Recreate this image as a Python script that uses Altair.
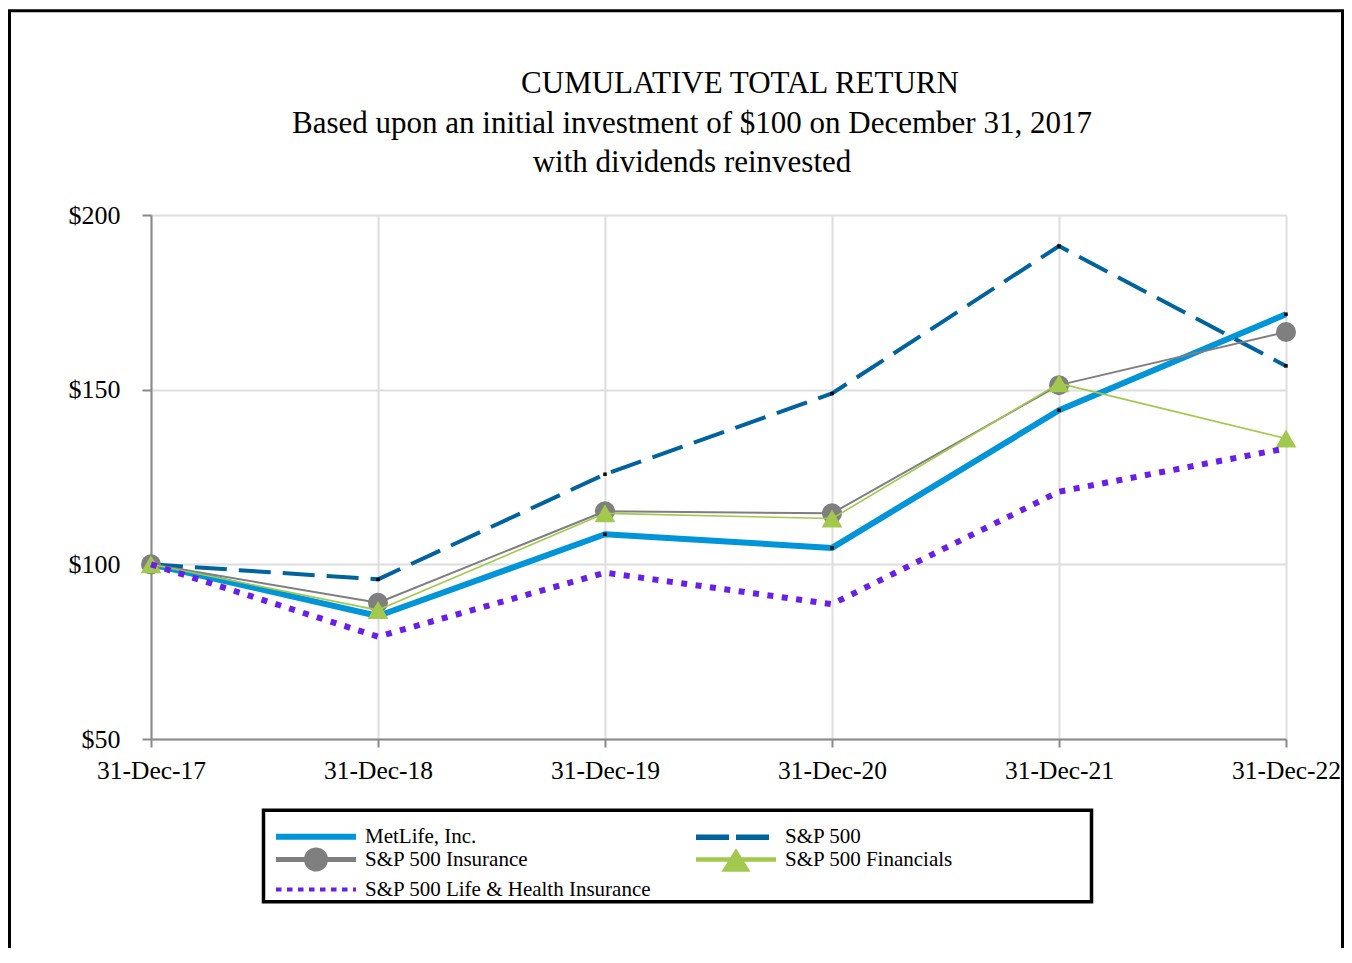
import altair as alt
import pandas as pd

dates = ["31-Dec-17", "31-Dec-18", "31-Dec-19", "31-Dec-20", "31-Dec-21", "31-Dec-22"]
series_names = ["MetLife, Inc.", "S&P 500", "S&P 500 Insurance", "S&P 500 Financials",
                "S&P 500 Life & Health Insurance"]
metlife = [100, 85.2, 108.6, 104.7, 144.1, 171.6]
sp500 = [100, 95.7, 125.8, 148.9, 191.1, 156.8]
insurance = [100, 89.0, 115.2, 114.6, 151.3, 166.5]
financials = [100, 86.9, 114.6, 113.1, 151.8, 136.0]
lifehealth = [100, 79.3, 97.6, 88.6, 120.8, 133.2]
y_ticks = [50, 100, 150, 200]
title_lines = ["CUMULATIVE TOTAL RETURN",
               "Based upon an initial investment of $100 on December 31, 2017",
               "with dividends reinvested"]

values_by_series = [metlife, sp500, insurance, financials, lifehealth]
rows = []
for name, vals in zip(series_names, values_by_series):
    for d, v in zip(dates, vals):
        rows.append({"date": d, "series": name, "value": v})
df = pd.DataFrame(rows)

colors = ["#0094D8", "#00639E", "#7F7F7F", "#A2C94E", "#6A1FE8"]
line_widths = [6, 4, 2, 1.6, 6]
line_dashes = [None, [32, 12], None, None, [6, 8.5]]

FONT = "Liberation Serif"

x_enc = alt.X("date:O", sort=dates, scale=alt.Scale(type="point", padding=0),
              axis=alt.Axis(title=None, labelAngle=0, grid=True, gridColor="#dedede", gridWidth=2,
                            domainColor="#8a8a8a", domainWidth=2, tickColor="#8a8a8a", tickWidth=2,
                            tickSize=8, labelFont=FONT, labelFontSize=25.5, labelColor="black",
                            labelPadding=11))
y_enc = alt.Y("value:Q", scale=alt.Scale(domain=[50, 200], nice=False, zero=False),
              axis=alt.Axis(title=None, values=y_ticks, labelExpr="'$' + datum.value", grid=True,
                            gridColor="#dedede", gridWidth=2, domainColor="#8a8a8a", domainWidth=2,
                            tickColor="#8a8a8a", tickWidth=2, tickSize=9, labelFont=FONT,
                            labelFontSize=26, labelColor="black", labelPadding=22))

base = alt.Chart(df)
layers = []
for i, name in enumerate(series_names):
    kw = dict(color=colors[i], strokeWidth=line_widths[i], strokeJoin="round")
    if line_dashes[i] is not None:
        kw["strokeDash"] = line_dashes[i]
        kw["strokeJoin"] = "miter"
    sub = base.transform_filter(alt.datum.series == name)
    layers.append(sub.mark_line(**kw).encode(x=x_enc, y=y_enc))
    if i in (0, 1):
        layers.append(sub.mark_square(size=12, color="black", opacity=1).encode(x=x_enc, y=y_enc))
    if i == 2:
        layers.append(sub.mark_point(shape="circle", filled=True, size=400, color=colors[i],
                                     opacity=1).encode(x=x_enc, y=y_enc))
    if i == 3:
        layers.append(sub.mark_point(shape="triangle-up", filled=True, size=430, color=colors[i],
                                     opacity=1).encode(x=x_enc, y=y_enc))

# legend symbols (custom paths, units scaled by 5px)
circ = ("M7.8,0C7.8,1.05 6.95,1.9 5.9,1.9C4.85,1.9 4,1.05 4,0"
        "C4,-1.05 4.85,-1.9 5.9,-1.9C6.95,-1.9 7.8,-1.05 7.8,0Z")
legend_shapes = [
    "M-2.1,0H13.9",
    "M-2.1,0H13.9",
    "M-2.1,0H13.9" + circ,
    "M-2.1,0H13.9M5.9,-1.4L8,2L3.8,2Z",
    "M-2.1,0H13.9",
]
legend_dashes = [[1, 0], [33, 7], [1, 0], [1, 0], [5.5, 5.5]]
legend_widths = [6, 4, 2, 2, 5]

leg = alt.Legend(orient="none", legendX=125, legendY=611, columns=2, columnPadding=33,
                 rowPadding=-9, padding=0, title=None, labelFont=FONT, labelFontSize=21,
                 labelColor="black", symbolSize=100, symbolOffset=0, labelOffset=68,
                 labelLimit=500, direction="horizontal")

legend_layer = base.transform_filter("false").mark_point(filled=True, opacity=1).encode(
    fill=alt.Fill("series:N", scale=alt.Scale(domain=series_names, range=colors), legend=leg),
    stroke=alt.Stroke("series:N", scale=alt.Scale(domain=series_names, range=colors), legend=leg),
    shape=alt.Shape("series:N", scale=alt.Scale(domain=series_names, range=legend_shapes), legend=leg),
    strokeDash=alt.StrokeDash("series:N", scale=alt.Scale(domain=series_names, range=legend_dashes),
                              legend=leg),
    strokeWidth=alt.StrokeWidth("series:N", scale=alt.Scale(domain=series_names, range=legend_widths),
                                legend=leg),
)
layers.append(legend_layer)

one = alt.Data(values=[{"k": 1}])
legend_box = alt.Chart(one).mark_rect(filled=False, stroke="black", strokeWidth=3.5).encode(
    x=alt.value(112.5), x2=alt.value(940.5), y=alt.value(595.3), y2=alt.value(686.8))
outer_frame = alt.Chart(one).mark_rect(filled=False, stroke="black", strokeWidth=3).encode(
    x=alt.value(-141.5), x2=alt.value(1191.5), y=alt.value(-204.2), y2=alt.value(760))
layers += [legend_box, outer_frame]

title_x = [589, 541, 541]
title_y = [-122.5, -82.5, -43.5]
for txt, tx, ty in zip(title_lines, title_x, title_y):
    layers.append(alt.Chart(one).mark_text(text=txt, font=FONT, fontSize=31, color="black",
                                           align="center", baseline="alphabetic").encode(
        x=alt.value(tx), y=alt.value(ty)))

chart = alt.layer(*layers).properties(
    width=1135, height=524,
    padding={"left": 143, "top": 207, "right": 58, "bottom": 209},
    autosize=alt.AutoSizeParams(type="none"),
).configure_view(stroke=None)

chart.save("out.html", embed_options={"renderer": "svg", "actions": False})
